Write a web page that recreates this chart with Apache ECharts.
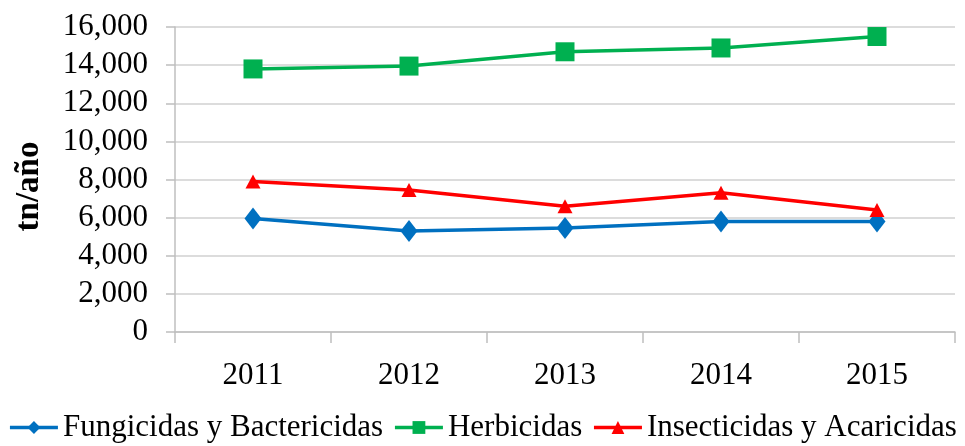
<!DOCTYPE html>
<html>
<head>
<meta charset="utf-8">
<script src="https://cdn.jsdelivr.net/npm/echarts@6/dist/echarts.min.js"></script>
<style>
  html, body { margin: 0; padding: 0; background: #fff; }
  #chart { width: 965px; height: 446px; }
</style>
</head>
<body>
<div id="chart"></div>
<script>
// data
const years = ["2011", "2012", "2013", "2014", "2015"];
const fungicidas = [5950, 5300, 5450, 5800, 5800];
const herbicidas = [13800, 13950, 14700, 14900, 15500];
const insecticidas = [7900, 7450, 6600, 7300, 6400];
const yTicks = { min: 0, max: 16000, interval: 2000 };

const serif = "'Liberation Serif', 'DejaVu Serif', serif";
const chart = echarts.init(document.getElementById("chart"), null, { renderer: "canvas" });

const fmt = (v) => v.toLocaleString("en-US");

const option = {
  animation: false,
  grid: { left: 175, right: 10, top: 27, bottom: 114, containLabel: false },
  legend: {
    bottom: 3,
    left: "center",
    padding: 0,
    itemWidth: 48,
    itemHeight: 16,
    itemGap: 10,
    lineStyle: { width: 3.5 },
    textStyle: { fontFamily: serif, fontSize: 31, color: "#000" },
    data: ["Fungicidas y Bactericidas", "Herbicidas", "Insecticidas y Acaricidas"],
  },
  xAxis: {
    type: "category",
    data: years,
    boundaryGap: true,
    axisLine: { lineStyle: { color: "#bfbfbf", width: 1.5 } },
    axisTick: { show: true, length: 11, lineStyle: { color: "#bfbfbf", width: 1.5 } },
    axisLabel: { fontFamily: serif, fontSize: 31, color: "#000", margin: 28 },
  },
  yAxis: {
    type: "value",
    min: yTicks.min,
    max: yTicks.max,
    interval: yTicks.interval,
    name: "tn/año",
    nameLocation: "middle",
    nameGap: 129,
    nameTextStyle: { fontFamily: serif, fontSize: 33, fontWeight: "bold", color: "#000", padding: [0, 14, 0, 0] },
    axisLine: { show: true, lineStyle: { color: "#bfbfbf", width: 1.5 } },
    axisTick: { show: true, length: 9, lineStyle: { color: "#bfbfbf", width: 1.5 } },
    axisLabel: { fontFamily: serif, fontSize: 31, color: "#000", margin: 27, formatter: fmt },
    splitLine: { lineStyle: { color: "#d0d0d0", width: 1.5 } },
  },
  series: [
    {
      name: "Fungicidas y Bactericidas",
      type: "line",
      data: fungicidas,
      symbol: "diamond",
      symbolSize: [17, 22],
      lineStyle: { color: "#0070C0", width: 3.5 },
      itemStyle: { color: "#0070C0" },
    },
    {
      name: "Herbicidas",
      type: "line",
      data: herbicidas,
      symbol: "rect",
      symbolSize: 19,
      lineStyle: { color: "#00B050", width: 3.5 },
      itemStyle: { color: "#00B050" },
    },
    {
      name: "Insecticidas y Acaricidas",
      type: "line",
      data: insecticidas,
      symbol: "triangle",
      symbolSize: [15, 14],
      lineStyle: { color: "#FF0000", width: 3.5 },
      itemStyle: { color: "#FF0000" },
    },
  ],
};

chart.setOption(option);
</script>
</body>
</html>
